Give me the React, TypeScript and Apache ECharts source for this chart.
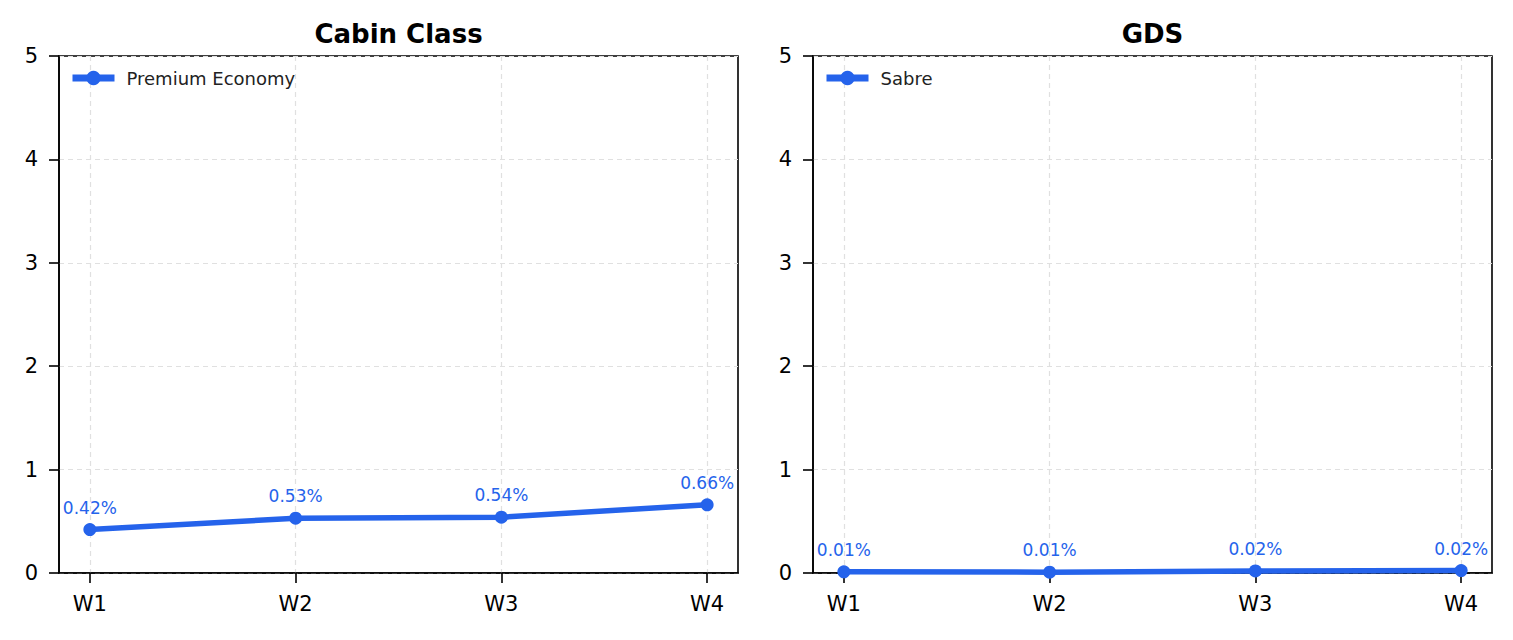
import React, { useEffect, useRef } from "react";
import * as echarts from "echarts";

const weeks = ["W1", "W2", "W3", "W4"];
const cabinName = "Premium Economy";
const cabinValues = [0.42, 0.53, 0.54, 0.66];
const gdsName = "Sabre";
const gdsValues = [0.012, 0.008, 0.02, 0.024];
const titles = ["Cabin Class", "GDS"];
const yTicks = [0, 1, 2, 3, 4, 5];

const BLUE = "#2563eb";
const FONT = "DejaVu Sans";

export default function App() {
  const ref = useRef<HTMLDivElement>(null);
  useEffect(() => {
    document.body.style.margin = "0";
    const chart = echarts.init(ref.current!, null, { renderer: "svg" });
    const grids = [
      { left: 59, top: 56, width: 679, height: 517 },
      { left: 813, top: 56, width: 679, height: 517 },
    ];
    const series = [
      { name: cabinName, data: cabinValues },
      { name: gdsName, data: gdsValues },
    ];
    const idx = weeks.map((_, i) => i);
    chart.setOption({
      animation: false,
      backgroundColor: "#fff",
      title: grids.map((g, i) => ({
        text: titles[i],
        left: g.left + g.width / 2,
        textAlign: "center",
        top: 21,
        padding: 0,
        textStyle: { fontFamily: FONT, fontSize: 26, fontWeight: "bold", color: "#000" },
      })),
      legend: grids.map((g, i) => ({
        data: [series[i].name],
        left: g.left + 10,
        top: g.top + 13,
        padding: 0,
        itemWidth: 42,
        itemHeight: 18,
        itemGap: 10,
        lineStyle: { width: 7 },
        textStyle: { fontFamily: FONT, fontSize: 18, color: "#222", padding: [0, 0, 0, 7] },
      })),
      grid: grids.map((g) => ({
        ...g,
        show: true,
        borderColor: "#000",
        borderWidth: 1.6,
        backgroundColor: "transparent",
      })),
      xAxis: grids.map((_, i) => ({
        type: "value",
        gridIndex: i,
        min: -0.15,
        max: 3.15,
        axisLine: { show: true, onZero: false, lineStyle: { color: "#000", width: 1.6 } },
        axisTick: { show: true, customValues: idx, length: 10, lineStyle: { color: "#000", width: 1.6 } },
        axisLabel: {
          customValues: idx,
          formatter: (v: number) => weeks[Math.round(v)],
          fontFamily: FONT,
          fontSize: 21,
          color: "#000",
          margin: 20,
        },
        splitLine: { show: true, lineStyle: { color: "#e0e0e0", type: [5, 4], width: 1.2 } },
      })),
      yAxis: grids.map((_, i) => ({
        type: "value",
        gridIndex: i,
        min: 0,
        max: 5,
        interval: 1,
        axisLine: { show: true, onZero: false, lineStyle: { color: "#000", width: 1.6 } },
        axisTick: { show: true, length: 10, lineStyle: { color: "#000", width: 1.6 } },
        axisLabel: {
          fontFamily: FONT,
          fontSize: 21,
          color: "#000",
          margin: 21,
          formatter: (v: number) => (yTicks.includes(v) ? String(v) : ""),
        },
        splitLine: { show: true, lineStyle: { color: "#e0e0e0", type: [5, 4], width: 1.2 } },
      })),
      series: series.map((s, i) => ({
        type: "line",
        name: s.name,
        xAxisIndex: i,
        yAxisIndex: i,
        data: s.data.map((v, j) => [j, v]),
        symbol: "circle",
        symbolSize: 13,
        color: BLUE,
        lineStyle: { color: BLUE, width: 5.5 },
        itemStyle: { color: BLUE },
        clip: true,
        label: {
          show: true,
          position: "top",
          distance: 7,
          formatter: (p: any) => p.value[1].toFixed(2) + "%",
          fontFamily: FONT,
          fontSize: 17,
          color: BLUE,
        },
      })),
    });
    return () => chart.dispose();
  }, []);
  return <div ref={ref} style={{ width: 1513, height: 640 }} />;
}
